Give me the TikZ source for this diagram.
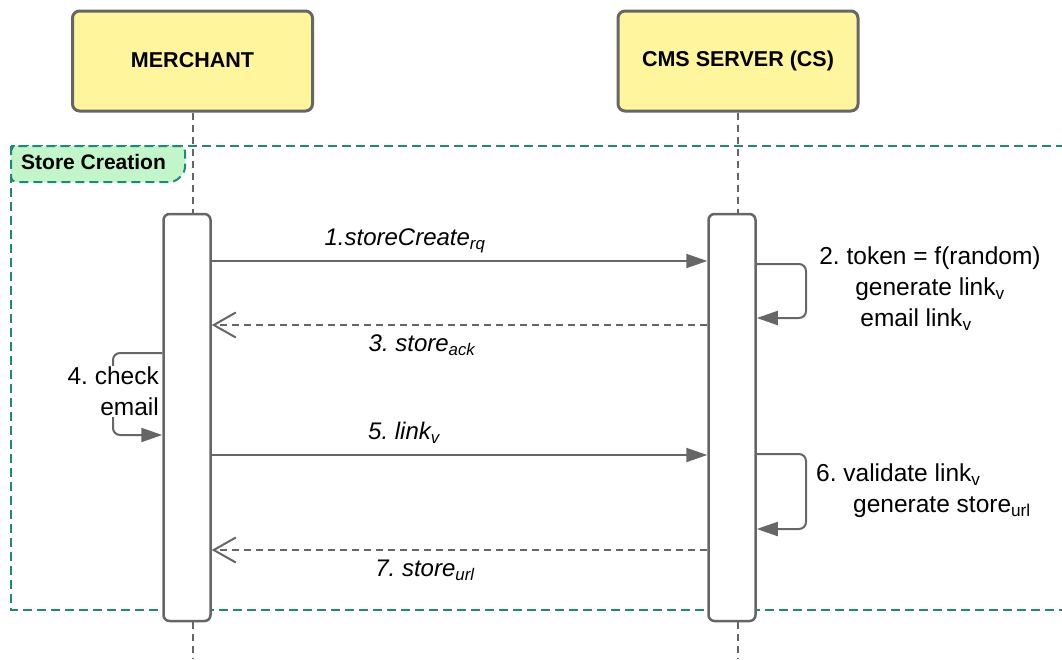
\documentclass[tikz,border=0pt]{standalone}
\usepackage{fontspec}
\setmainfont{Liberation Sans}
\usetikzlibrary{arrows.meta}
\definecolor{boxfill}{HTML}{FFF59D}
\definecolor{edge}{HTML}{666666}
\definecolor{framegreen}{HTML}{1B8C74}
\definecolor{tabfill}{HTML}{C3F5CA}
\tikzset{
  actor/.style={draw=edge, line width=3pt, fill=boxfill, rounded corners=7pt,
    minimum width=240pt, minimum height=100pt, inner sep=0pt,
    font=\fontsize{21.5}{25}\selectfont\bfseries},
  actbox/.style={draw=edge, line width=2.5pt, fill=white, rounded corners=6pt,
    minimum width=47pt, minimum height=407pt, inner sep=0pt},
  lifeline/.style={draw=edge, line width=2pt, dash pattern=on 7pt off 5pt},
  frameline/.style={draw=framegreen, line width=2pt, dash pattern=on 9pt off 5pt},
  callmsg/.style={draw=edge, line width=2pt, -{Triangle[length=21pt,width=14pt]}},
  retmsg/.style={draw=edge, line width=2pt, dash pattern=on 7pt off 5pt,
    -{Straight Barb[length=22pt,width=25pt,line width=2pt]}},
  selfmsg/.style={draw=edge, line width=2pt, rounded corners=7pt,
    -{Triangle[length=21pt,width=14pt]}},
  msglabel/.style={font=\fontsize{24}{28}\selectfont\itshape, inner sep=0pt},
  note/.style={font=\fontsize{24.5}{31}\selectfont, inner sep=0pt}
}
\begin{document}
\frenchspacing
\begin{tikzpicture}[x=1pt,y=-1pt]
\useasboundingbox (0,0) rectangle (1062,659);

% actors
\node[actor] (mer) at (192.5,61) {\raisebox{2pt}{MERCHANT}};
\node[actor] (cms) at (738,61) {\raisebox{2pt}{CMS SERVER (CS)}};

% frame
\draw[frameline] (11,146) rectangle (1068,610);
\draw[frameline, fill=tabfill] (11,152) [rounded corners=5pt] -- (11,146) -- (185,146) -- (185,172) -- (175,182) -- (11,182) -- cycle;
\node[anchor=west, inner sep=0pt, font=\fontsize{21}{24}\selectfont\bfseries] (tab) at (21,162) {Store Creation};

% activation boxes
\node[actbox] (ma) at (187,417.5) {};
\node[actbox] (ca) at (732,417.5) {};

% lifelines
\coordinate (mend) at (mer.south |- 0,659);
\coordinate (cend) at (cms.south |- 0,659);
\draw[lifeline] (mer.south) -- (mer.south |- ma.north);
\draw[lifeline] (mer.south |- ma.south) -- (mend);
\draw[lifeline] (cms.south) -- (cms.south |- ca.north);
\draw[lifeline] (cms.south |- ca.south) -- (cend);

% message anchor points
\coordinate (m1a) at (ma.east |- 0,261);
\coordinate (m1b) at (ca.west |- 0,261);
\coordinate (m3a) at (ca.west |- 0,325);
\coordinate (m3b) at (ma.east |- 0,325);
\coordinate (m5a) at (ma.east |- 0,455);
\coordinate (m5b) at (ca.west |- 0,455);
\coordinate (m7a) at (ca.west |- 0,550);
\coordinate (m7b) at (ma.east |- 0,550);

\draw[callmsg] (m1a) -- (m1b);
\draw[retmsg] (m3a) -- (m3b);
\draw[callmsg] (m5a) -- (m5b);
\draw[retmsg] (m7a) -- (m7b);

\node[msglabel] (l1) at (405,241) {1.storeCreate\textsubscript{rq}};
\node[msglabel] (l3) at (422,345) {3. store\textsubscript{ack}};
\node[msglabel] (l5) at (404,433) {5. link\textsubscript{v}};
\node[msglabel] (l7) at (425,570) {7. store\textsubscript{url}};

% self messages on CMS
\coordinate (s2a) at (ca.east |- 0,264);
\coordinate (s2b) at (ca.east |- 0,318);
\coordinate (s6a) at (ca.east |- 0,454);
\coordinate (s6b) at (ca.east |- 0,529);
\draw[selfmsg] (s2a) -- (806,264) -- (806,318) -- (s2b);
\draw[selfmsg] (s6a) -- (806,454) -- (806,529) -- (s6b);

\node[note, align=center, anchor=north] (n2) at (930,247)
  {2. token = f(random)\\generate link\textsubscript{v}\\email link\textsubscript{v}\hspace*{28pt}};
\node[note, align=left, anchor=north west] (n6) at (816,464)
  {6. validate link\textsubscript{v}\\\hspace*{37pt}generate store\textsubscript{url}};

% self message on merchant
\coordinate (s4a) at (ma.west |- 0,353);
\coordinate (s4b) at (ma.west |- 0,435);
\draw[selfmsg] (s4a) -- (113,353) -- (113,435) -- (s4b);
\node[note, align=right, anchor=north east, fill=white, inner sep=1pt] (n4) at (160,366)
  {4. check\\email};
\end{tikzpicture}
\end{document}
